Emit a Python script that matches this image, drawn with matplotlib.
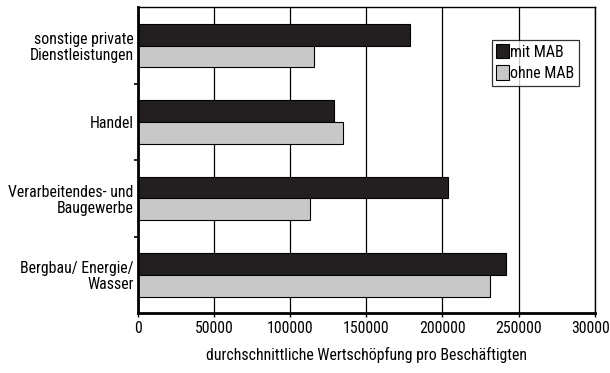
import numpy as np
import matplotlib
matplotlib.use("Agg")
import matplotlib.pyplot as plt

plt.rcParams['font.family'] = ['Roboto Condensed', 'Liberation Sans', 'DejaVu Sans']
plt.rcParams['font.stretch'] = 'condensed'

# Branchen von oben nach unten
branchen = ["sonstige private\nDienstleistungen", "Handel",
            "Verarbeitendes- und\nBaugewerbe", "Bergbau/ Energie/\nWasser"]
mit_mab = [179000, 129000, 203500, 242000]
ohne_mab = [115500, 135000, 113000, 231000]
x_ticks = [0, 50000, 100000, 150000, 200000, 250000, 300000]

fs = 11.4

fig = plt.figure(figsize=(6.10, 3.73), dpi=100)
ax = fig.add_axes([0.226, 0.161, 0.749, 0.819])

n = len(branchen)
pos = np.arange(n)[::-1].astype(float)
h = 0.285

ax.set_axisbelow(True)
ax.grid(axis='x', color='black', linewidth=0.9)
ax.barh(pos + h / 2, mit_mab, height=h, color='#231f20', edgecolor='black',
        linewidth=0.8, label='mit MAB')
ax.barh(pos - h / 2, ohne_mab, height=h, color='#c8c8c8', edgecolor='black',
        linewidth=0.8, label='ohne MAB')

ax.set_xlim(0, 300000)
ax.set_ylim(-0.5, n - 0.5)
ax.set_xticks(x_ticks)
ax.set_xticklabels([str(v) for v in x_ticks], fontsize=fs)
ax.set_yticks(pos)
ax.set_yticklabels(branchen, fontsize=fs, linespacing=1.1)
ax.set_yticks(np.arange(n - 1) + 0.5, minor=True)
ax.tick_params(axis='y', which='major', length=0, pad=3)
ax.tick_params(axis='y', which='minor', length=3, width=1.2, direction='out')
ax.tick_params(axis='x', length=3, width=1, direction='out', pad=3)

for side in ('left', 'bottom'):
    ax.spines[side].set_linewidth(2)
ax.spines['top'].set_linewidth(1)
ax.spines['right'].set_linewidth(1)

ax.set_xlabel('durchschnittliche Wertschöpfung pro Beschäftigten', fontsize=fs,
              labelpad=8)

leg = ax.legend(loc='upper right', bbox_to_anchor=(0.965, 0.895), fontsize=fs,
                frameon=True, fancybox=False, edgecolor='black', handlelength=0.8,
                handleheight=1.0, handletextpad=0.05, borderpad=0.3,
                labelspacing=0.35, borderaxespad=0)
leg.get_frame().set_linewidth(0.9)

fig.savefig("out.png", dpi=100)
